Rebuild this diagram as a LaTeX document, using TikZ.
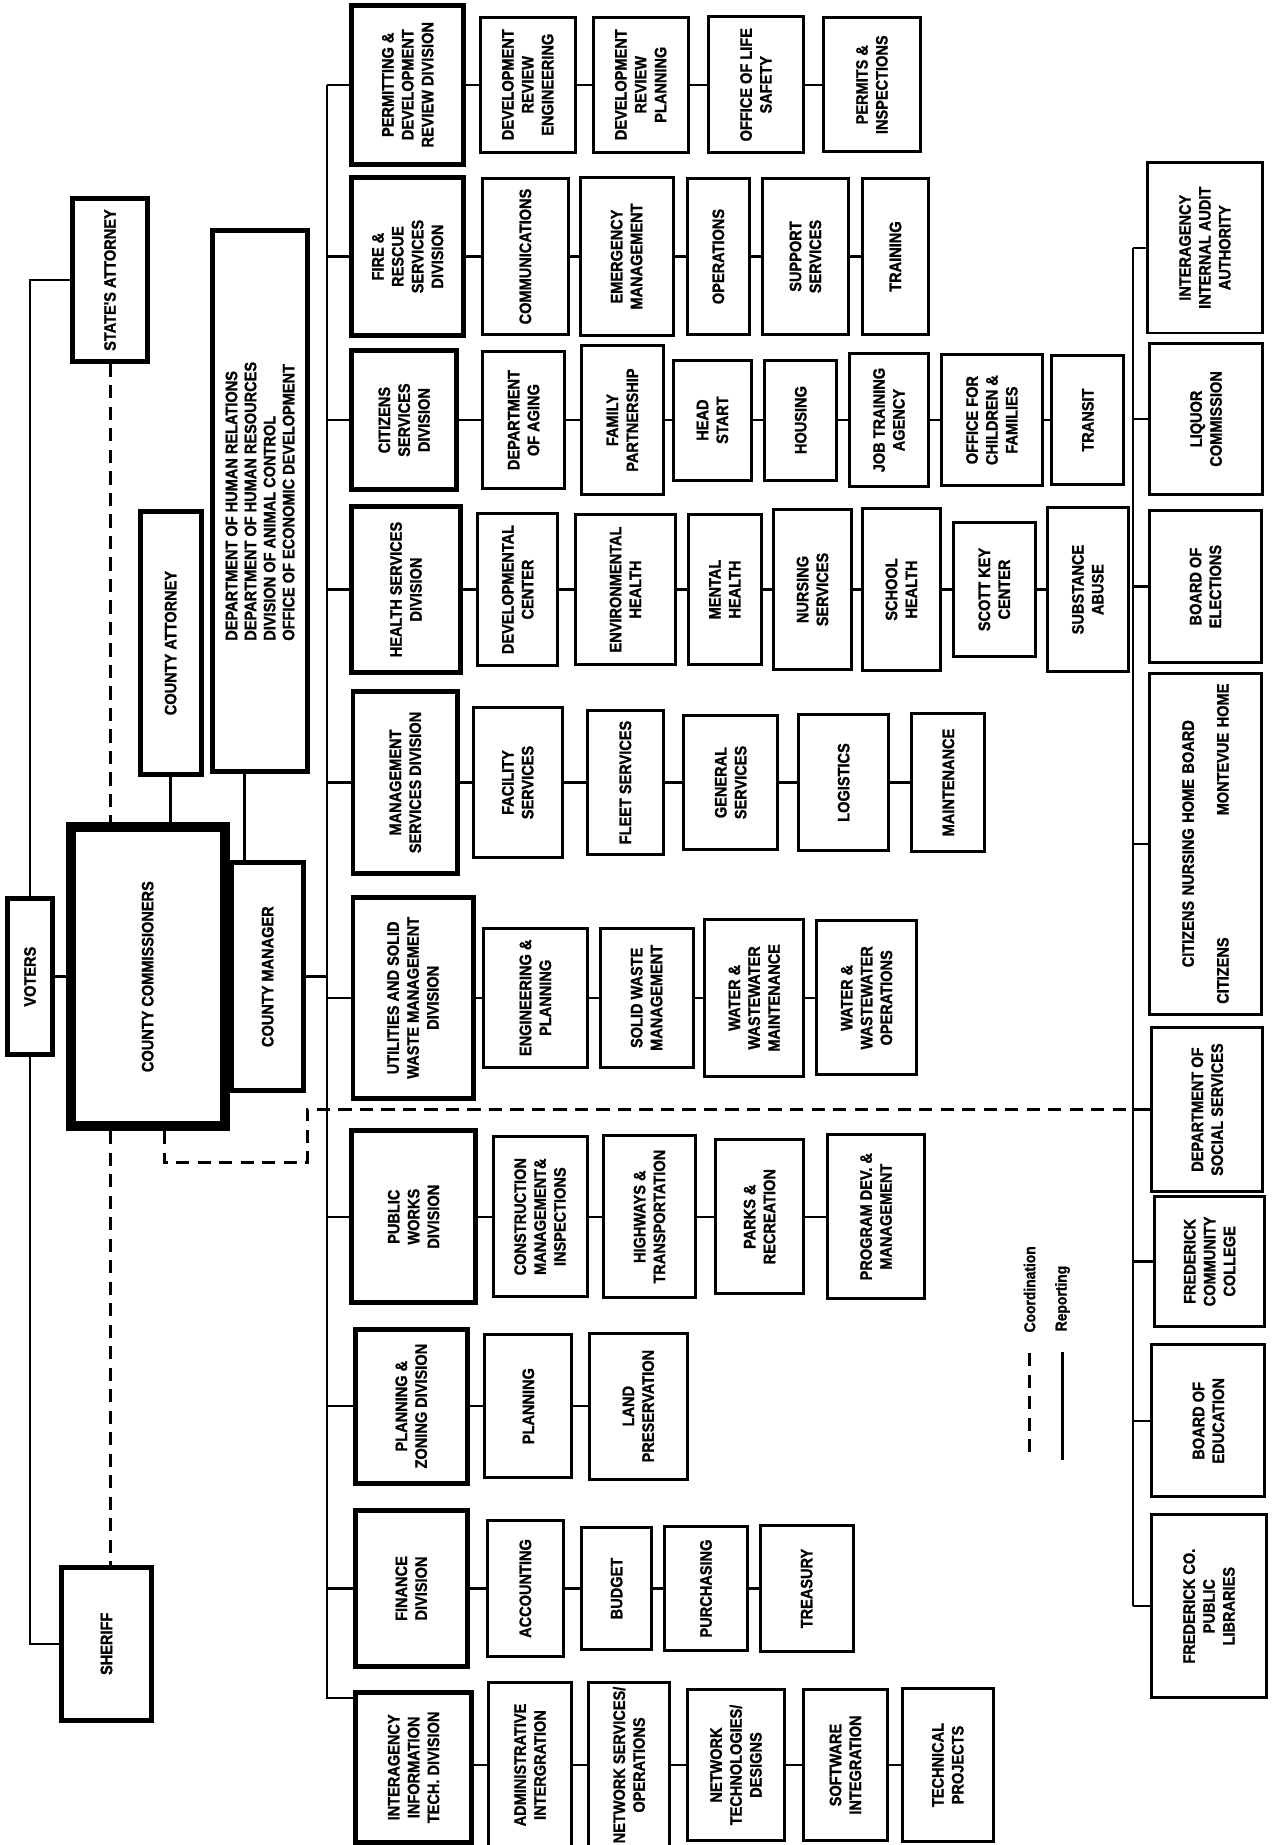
\documentclass[tikz,border=0pt]{standalone}
\usepackage{fontspec}
\newfontfamily\orgfont{Liberation Sans Bold}[FakeStretch=0.88, FakeBold=1.2]
\usepackage{tikz}
\usetikzlibrary{positioning}

\begin{document}
\begin{tikzpicture}[x=0.025cm, y=-0.025cm,
  office/.style={draw, line width=1.8pt, rotate=90, align=center, inner sep=2pt, font=\orgfont\fontsize{10}{12}\selectfont},
  division/.style={office, line width=3pt},
  board/.style={office, line width=6pt},
  wh/.style 2 args={minimum height=#1*0.025cm, minimum width=#2*0.025cm},
  rep/.style={line width=1.4pt},
  coordline/.style={line width=1.8pt, dash pattern=on 8pt off 5pt},
  legendtext/.style={rotate=90, anchor=west, inner sep=1pt, font=\orgfont\fontsize{9.5}{11}\selectfont}
]
\useasboundingbox (0,0) rectangle (1081,1568);

% top level
\node[division, wh={39}{133}] (voters) at (25.5,830) {VOTERS};
\node[board, wh={131}{254}] (comm) at (125.5,830) {COUNTY COMMISSIONERS};
\node[division, wh={63}{138}] (stattny) at (93.5,238) {STATE'S ATTORNEY};
\node[division, wh={77}{130}] (sheriff) at (90.5,1397) {SHERIFF};
\node[division, wh={52}{223}] (cntyatty) at (145,546.5) {COUNTY ATTORNEY};
\node[division, wh={80}{460}, align=left, font=\orgfont\fontsize{10}{11.5}\selectfont] (humanrel) at (221,426)
  {DEPARTMENT OF HUMAN RELATIONS\\DEPARTMENT OF HUMAN RESOURCES\\DIVISION OF ANIMAL CONTROL\\OFFICE OF ECONOMIC DEVELOPMENT};
\node[division, wh={61}{194}] (mgr) at (227.5,830) {COUNTY MANAGER};

% divisions and their offices
\node[division, wh={95}{135}] (permdiv) at (346.5,72) {PERMITTING \&\\DEVELOPMENT\\REVIEW DIVISION};
\node[office, wh={81}{115}] (dre) at (448.5,72) {DEVELOPMENT\\REVIEW\\ENGINEERING};
\node[office, wh={81}{115}] (drp) at (544.5,72) {DEVELOPMENT\\REVIEW\\PLANNING};
\node[office, wh={81}{116}] (ols) at (642.5,72) {OFFICE OF LIFE\\SAFETY};
\node[office, wh={82}{114}] (permits) at (741,72) {PERMITS \&\\INSPECTIONS};

\node[division, wh={95}{135}] (firediv) at (346.5,218) {FIRE \&\\RESCUE\\SERVICES\\DIVISION};
\node[office, wh={73}{133}] (comms) at (446.5,218) {COMMUNICATIONS};
\node[office, wh={79}{134}] (emerg) at (532.5,218) {EMERGENCY\\MANAGEMENT};
\node[office, wh={53}{133}] (ops) at (610.5,218) {OPERATIONS};
\node[office, wh={73}{133}] (support) at (684.5,218) {SUPPORT\\SERVICES};
\node[office, wh={56}{133}] (training) at (761,218) {TRAINING};

\node[division, wh={89}{118}] (citdiv) at (343.5,357) {CITIZENS\\SERVICES\\DIVISION};
\node[office, wh={70}{116}] (aging) at (445,357) {DEPARTMENT\\OF AGING};
\node[office, wh={70}{126}] (family) at (529,357) {FAMILY\\PARTNERSHIP};
\node[office, wh={67}{102}] (headstart) at (605.5,357) {HEAD\\START};
\node[office, wh={61}{102}] (housing) at (680.5,357) {HOUSING};
\node[office, wh={67}{113}] (jobtrain) at (755.5,357) {JOB TRAINING\\AGENCY};
\node[office, wh={86}{111}] (ocf) at (843,357) {OFFICE FOR\\CHILDREN \&\\FAMILIES};
\node[office, wh={61}{110}] (transit) at (924.5,357) {TRANSIT};

\node[division, wh={92}{141}] (healthdiv) at (345,501) {HEALTH SERVICES\\DIVISION};
\node[office, wh={68}{129}] (devctr) at (440,501) {DEVELOPMENTAL\\CENTER};
\node[office, wh={85}{128}] (envhealth) at (531.5,501) {ENVIRONMENTAL\\HEALTH};
\node[office, wh={62}{128}] (mental) at (616,501) {MENTAL\\HEALTH};
\node[office, wh={67}{136}] (nursingsvc) at (690.5,501) {NURSING\\SERVICES};
\node[office, wh={66}{138}] (school) at (766,501) {SCHOOL\\HEALTH};
\node[office, wh={70}{114}] (scottkey) at (845,501) {SCOTT KEY\\CENTER};
\node[office, wh={69}{139}] (subabuse) at (924.5,501) {SUBSTANCE\\ABUSE};

\node[division, wh={89}{154}] (mgmtdiv) at (344.5,665) {MANAGEMENT\\SERVICES DIVISION};
\node[office, wh={76}{128}] (facility) at (440,665) {FACILITY\\SERVICES};
\node[office, wh={65}{122}] (fleet) at (531.5,665) {FLEET SERVICES};
\node[office, wh={80}{114}] (general) at (621,665) {GENERAL\\SERVICES};
\node[office, wh={76}{116}] (logistics) at (717,665) {LOGISTICS};
\node[office, wh={62}{117}] (maint) at (806,665) {MAINTENANCE};

\node[division, wh={102}{171}] (utildiv) at (351,848) {UTILITIES AND SOLID\\WASTE MANAGEMENT\\DIVISION};
\node[office, wh={88}{118}] (engplan) at (455,848) {ENGINEERING \&\\PLANNING};
\node[office, wh={79}{118}] (solidwaste) at (549.5,848) {SOLID WASTE\\MANAGEMENT};
\node[office, wh={84}{133}] (wwmaint) at (641,848) {WATER \&\\WASTEWATER\\MAINTENANCE};
\node[office, wh={85}{131}] (wwops) at (736.5,848) {WATER \&\\WASTEWATER\\OPERATIONS};

\node[division, wh={105}{146}] (pwdiv) at (351.5,1034) {PUBLIC\\WORKS\\DIVISION};
\node[office, wh={80}{136}] (cmi) at (459,1034) {CONSTRUCTION\\MANAGEMENT\&\\INSPECTIONS};
\node[office, wh={78}{138}] (hwy) at (552,1034) {HIGHWAYS \&\\TRANSPORTATION};
\node[office, wh={75}{131}] (parks) at (645.5,1034) {PARKS \&\\RECREATION};
\node[office, wh={83}{139}] (progdev) at (744.5,1034) {PROGRAM DEV. \&\\MANAGEMENT};

\node[division, wh={95}{131}] (plandiv) at (349.5,1195) {PLANNING \&\\ZONING DIVISION};
\node[office, wh={74}{122}] (planning) at (449,1195) {PLANNING};
\node[office, wh={83}{124}] (landpres) at (542.5,1195) {LAND\\PRESERVATION};

\node[division, wh={95}{132}] (findiv) at (349.5,1350) {FINANCE\\DIVISION};
\node[office, wh={65}{116}] (accounting) at (446.5,1350) {ACCOUNTING};
\node[office, wh={60}{104}] (budget) at (524,1350) {BUDGET};
\node[office, wh={70}{106}] (purchasing) at (600,1350) {PURCHASING};
\node[office, wh={79}{107}] (treasury) at (685.5,1350) {TREASURY};

\node[division, wh={99}{128}] (itdiv) at (351.5,1502) {INTERAGENCY\\INFORMATION\\TECH. DIVISION};
\node[office, wh={71}{140}] (admin) at (450.5,1500) {ADMINISTRATIVE\\INTERGRATION};
\node[office, wh={69}{140}] (netserv) at (534.5,1500) {NETWORK SERVICES/\\OPERATIONS};
\node[office, wh={83}{128}] (nettech) at (625.5,1500) {NETWORK\\TECHNOLOGIES/\\DESIGNS};
\node[office, wh={71}{128}] (software) at (718.5,1500) {SOFTWARE\\INTEGRATION};
\node[office, wh={77}{130}] (techproj) at (805.5,1500) {TECHNICAL\\PROJECTS};

% boards and agencies
\node[office, wh={98}{145}] (audit) at (1024,210.5) {INTERAGENCY\\INTERNAL AUDIT\\AUTHORITY};
\node[office, wh={96}{128}] (liquor) at (1025,356) {LIQUOR\\COMMISSION};
\node[office, wh={95}{129}] (elect) at (1024.5,498.5) {BOARD OF\\ELECTIONS};
\node[office, wh={95}{290}, text width=6.8cm] (nursing) at (1024.5,717) {CITIZENS NURSING HOME BOARD\\[9pt]CITIZENS\hfill MONTEVUE HOME};
\node[office, wh={94}{140}] (dss) at (1026,943) {DEPARTMENT OF\\SOCIAL SERVICES};
\node[office, wh={94}{110}] (fcc) at (1028,1072) {FREDERICK\\COMMUNITY\\COLLEGE};
\node[office, wh={96}{129}] (boe) at (1027,1207.5) {BOARD OF\\EDUCATION};
\node[office, wh={97}{156}] (fcpl) at (1027.5,1365) {FREDERICK CO.\\PUBLIC\\LIBRARIES};

% legend
\node[legendtext] (coordlbl) at (875,1134) {Coordination};
\node[legendtext] (replbl) at (903,1133) {Reporting};
\coordinate (coordend) at (875,1238);
\coordinate (repend) at (903,1241);

% bus lines
\coordinate (bus) at (278,0);
\coordinate (busend) at (278,1443);
\coordinate (rbus) at (963,0);
\coordinate (cbend) at (261,988);

% reporting lines
\draw[rep] (voters.east) |- (stattny.north);
\draw[rep] (voters.west) |- (sheriff.north);
\draw[rep] (voters.south) -- (comm.north);
\draw[rep] (comm.south) -- (mgr.north);
\draw[rep] (cntyatty.west) -- (cntyatty.west |- comm.east);
\draw[rep] ([xshift=-0.33cm]humanrel.west) -- ([xshift=-0.33cm]humanrel.west |- mgr.east);
\draw[rep] (mgr.south) -- (mgr.south -| bus);
\draw[rep] (bus |- permdiv) -- (busend) -- (busend -| itdiv.north);
\draw[rep] (bus |- permdiv) -- (permdiv.north);
\draw[rep] (bus |- firediv) -- (firediv.north);
\draw[rep] (bus |- citdiv) -- (citdiv.north);
\draw[rep] (bus |- healthdiv) -- (healthdiv.north);
\draw[rep] (bus |- mgmtdiv) -- (mgmtdiv.north);
\draw[rep] (bus |- utildiv) -- (utildiv.north);
\draw[rep] (bus |- pwdiv) -- (pwdiv.north);
\draw[rep] (bus |- plandiv) -- (plandiv.north);
\draw[rep] (bus |- findiv) -- (findiv.north);

\draw[rep] (permdiv) -- (dre); \draw[rep] (dre) -- (drp); \draw[rep] (drp) -- (ols); \draw[rep] (ols) -- (permits);
\draw[rep] (firediv) -- (comms); \draw[rep] (comms) -- (emerg); \draw[rep] (emerg) -- (ops); \draw[rep] (ops) -- (support); \draw[rep] (support) -- (training);
\draw[rep] (citdiv) -- (aging); \draw[rep] (aging) -- (family); \draw[rep] (family) -- (headstart); \draw[rep] (headstart) -- (housing);
\draw[rep] (housing) -- (jobtrain); \draw[rep] (jobtrain) -- (ocf); \draw[rep] (ocf) -- (transit);
\draw[rep] (healthdiv) -- (devctr); \draw[rep] (devctr) -- (envhealth); \draw[rep] (envhealth) -- (mental); \draw[rep] (mental) -- (nursingsvc);
\draw[rep] (nursingsvc) -- (school); \draw[rep] (school) -- (scottkey); \draw[rep] (scottkey) -- (subabuse);
\draw[rep] (mgmtdiv) -- (facility); \draw[rep] (facility) -- (fleet); \draw[rep] (fleet) -- (general); \draw[rep] (general) -- (logistics); \draw[rep] (logistics) -- (maint);
\draw[rep] (utildiv) -- (engplan); \draw[rep] (engplan) -- (solidwaste); \draw[rep] (solidwaste) -- (wwmaint); \draw[rep] (wwmaint) -- (wwops);
\draw[rep] (pwdiv) -- (cmi); \draw[rep] (cmi) -- (hwy); \draw[rep] (hwy) -- (parks); \draw[rep] (parks) -- (progdev);
\draw[rep] (plandiv) -- (planning); \draw[rep] (planning) -- (landpres);
\draw[rep] (findiv) -- (accounting); \draw[rep] (accounting) -- (budget); \draw[rep] (budget) -- (purchasing); \draw[rep] (purchasing) -- (treasury);
\draw[rep] (itdiv.south |- admin) -- (admin); \draw[rep] (admin) -- (netserv); \draw[rep] (netserv) -- (nettech); \draw[rep] (nettech) -- (software); \draw[rep] (software) -- (techproj);

\draw[rep] (rbus |- audit) -- (rbus |- fcpl);
\draw[rep] (rbus |- audit) -- (audit.north);
\draw[rep] (rbus |- liquor) -- (liquor.north);
\draw[rep] (rbus |- elect) -- (elect.north);
\draw[rep] (rbus |- nursing) -- (nursing.north);
\draw[rep] (rbus |- dss) -- (dss.north);
\draw[rep] (rbus |- fcc) -- (fcc.north);
\draw[rep] (rbus |- boe) -- (boe.north);
\draw[rep] (rbus |- fcpl) -- (fcpl.north);

% coordination lines
\draw[coordline] (stattny.west) -- (stattny.west |- comm.east);
\draw[coordline] (stattny.west |- comm.west) -- (stattny.west |- sheriff.east);
\draw[coordline] ([xshift=0.36cm]comm.west) |- (cbend) |- (dss.north -| rbus);

% legend lines
\draw[coordline] ([yshift=-0.4cm]coordlbl.west) -- (coordend);
\draw[rep] ([yshift=-0.4cm]replbl.west) -- (repend);
\end{tikzpicture}
\end{document}
